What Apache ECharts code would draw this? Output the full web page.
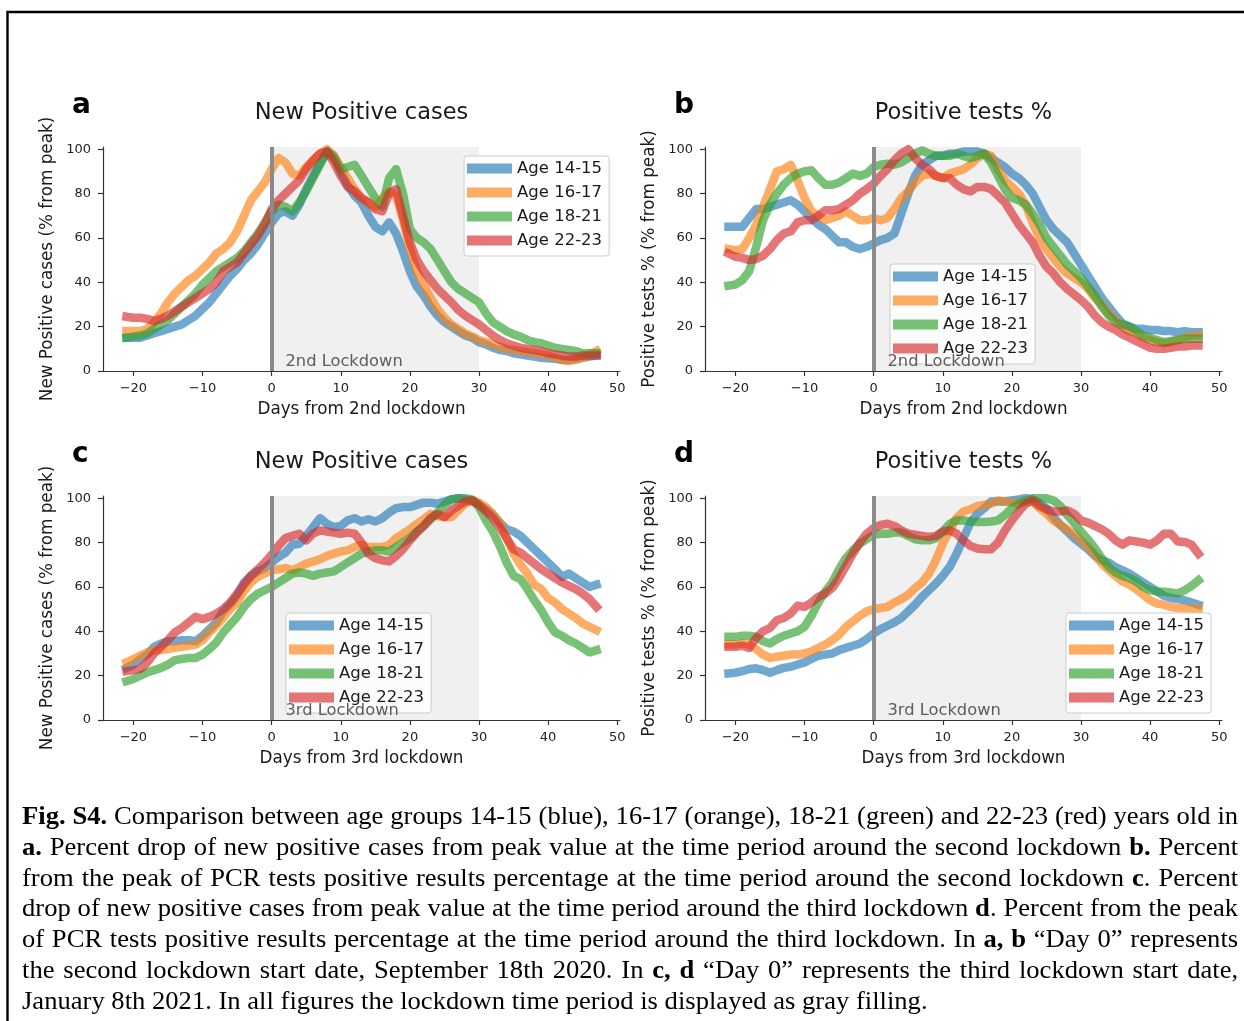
<!DOCTYPE html>
<html>
<head>
<meta charset="utf-8">
<script src="https://cdn.jsdelivr.net/npm/echarts@6/dist/echarts.min.js"></script>
<style>
html,body{margin:0;padding:0;background:#fff;}
#chart{position:absolute;left:0;top:0;width:1244px;height:1021px;}
#cap{position:absolute;left:22px;top:801px;width:1166px;transform-origin:0 0;transform:scaleX(1.043);
 font-family:'Liberation Serif','Times New Roman',serif;font-size:25.5px;color:#000;}
#cap .l{height:30.8px;line-height:30.8px;text-align:justify;text-align-last:justify;white-space:nowrap;}
#cap .last{text-align:left;text-align-last:left;}
</style>
</head>
<body>
<div id="chart"></div>
<div id="cap">
<div class="l"><b>Fig. S4.</b> Comparison between age groups 14-15 (blue), 16-17 (orange), 18-21 (green) and 22-23 (red) years old in</div>
<div class="l"><b>a.</b> Percent drop of new positive cases from peak value at the time period around the second lockdown <b>b.</b> Percent</div>
<div class="l">from the peak of PCR tests positive results percentage at the time period around the second lockdown <b>c</b>. Percent</div>
<div class="l">drop of new positive cases from peak value at the time period around the third lockdown <b>d</b>. Percent from the peak</div>
<div class="l">of PCR tests positive results percentage at the time period around the third lockdown. In <b>a, b</b> “Day 0” represents</div>
<div class="l">the second lockdown start date, September 18th 2020. In <b>c, d</b> “Day 0” represents the third lockdown start date,</div>
<div class="l last">January 8th 2021. In all figures the lockdown time period is displayed as gray filling.</div>
</div>
<script>
// ---- data ----
const days = Array.from({length: 69}, (_, i) => i - 21); // -21 .. 47
const ageGroups = ['Age 14-15', 'Age 16-17', 'Age 18-21', 'Age 22-23'];
const xTicks = [-20, -10, 0, 10, 20, 30, 40, 50];
const yTicks = [0, 20, 40, 60, 80, 100];

// a: new positive cases, 2nd lockdown
const caseLd2_1415 = [15,15,15,16,17,18,19,20,21,23, 25,28,31,35,39,43,46,50,53,57, 62,67,71,72,70,75,82,88,94,99, 97,90,84,79,76,70,65,63,67,62, 54,45,38,34,29,25,22,20,18,16, 15,13,12,10.5,9.5,9,8,7.5,7,6.5, 6,5.7,5.5,5,5,5.5,6,6.5,7];
const caseLd2_1617 = [18,18,18,19,22,26,31,35,38,41, 43,46,49,53,55,58,63,70,77,81, 85,91,96,94,89,88,92,95,98,100, 97,92,87,82,78,76,74,78,81,79, 68,55,45,39,33,28,24,21,19,17, 15.5,14,13,12,11,10,9.5,9,8.5,8, 7.5,7,6,5,4.5,5,6,7.5,9];
const caseLd2_1821 = [15,15.5,16,17,19,21,23,26,29,32, 35,39,42,45,47,49,51,54,58,62, 67,72,75,74,72,76,81,87,93,99, 96,91,92,93,88,83,78,74,87,91, 80,64,60,58,55,50,45,40,37,35, 33,31,26,22,20,18,16.5,15.5,14,13, 12.5,11.5,10.5,10,9.5,9,8,8,8];
const caseLd2_2223 = [24.5,24,24,23.5,22.5,23.5,25,27,29,31, 33,35,37,40,45,47,49,53,57,61, 66,73,77,80,83,86,91,95,98,99, 94,88,83,81,78,76,73,72,80,82, 70,58,50,45,41,37,34,31,27.5,25, 23,21,18.5,16,14,12.5,11.5,10.5,10,9.5, 9,8,7.5,7,6.5,6.5,7,7,7];

// b: positive tests %, 2nd lockdown
const posLd2_1415 = [65,65,65,69,73,73,74,75,76,77, 75,72,69,66,64,61,58,58,56,55, 56,57.5,59,60,62,71,80,88,93,95, 97,97,98,98,99,99,99,98,96,94, 92,89,87,84,80,74,68,64,61,58, 53,48,43,38,33,29,25,21.5,20,19, 19,18.5,18.5,18,18,17.5,18,17.5,17.5];
const posLd2_1617 = [55,54.5,55,60,66,74,82,90,91,93, 86,78,72,70,68,69,70,72,70,68, 68,69,68,69,73,78,81,85,88,89, 88,87,89,90,91,93,96,98,97,91, 86,83,80,75,67,60,55,51,47,44, 42,40,37,33,30,26,23,20,18,17, 15,14,13,12.5,13,14,15,16,16];
const posLd2_1821 = [38.5,39,41,45,56,68,75,80,84,87, 89,90,90.5,87,84,84,85,87,89,88, 89,92,93,93.5,93,94,96,98,99.5,98, 97,97,97,98,97,96,97,98,94,88, 82,78,77,75,71,66,60,56,52,48, 45,42,38,34,29,25,22,21,20,18, 16,15,14,13,13.5,14,14.5,14.5,14.5];
const posLd2_2223 = [53,51.5,51,50,50.5,52,55,59,62,63, 67,68,68,70,72.5,72.5,73,75,77,80, 82,84.5,88,91,95,98,100,96,93,91, 88,87,87,84,82,81,83,83,82,79, 76,71,66,62,58,52,47,44,40,37, 34.5,32,29,25,22,20,18.5,16.5,15,13.5, 12,10.5,10,10,10.5,11,11,11.5,11.5];

// c: new positive cases, 3rd lockdown
const caseLd3_1415 = [23.5,25,27.5,29.5,33,34.5,35.5,35.5,36,36, 35.5,38,41,44,49,52,56,62,65,67, 68.5,71,73.5,75.5,79,79.5,83,87,91,88.5, 87,87.5,90,91,89.5,90.5,89.5,91,93.5,95.5, 96,96,97,98,98,97.5,98.5,99.5,100,99.5, 99,97,95,92.5,89,86,85,83,80,77, 74,71,68,64.5,66,64,62,60,61];
const caseLd3_1617 = [26,27.5,29,30.5,31.5,31.5,32,32.5,33,33.5, 34,36,39.5,42.5,46,50,53,58,62,64.5, 66,67.5,68,68.5,67.5,69,70.5,71.5,72.5,74, 75,76,76.5,78,79,78,78,78,79,82, 84,86,88.5,90.5,93,92,91.5,91.5,94.5,97.5, 99,98,96,93,89,82,75,70,66,61, 59,55,53,50,48,46,43.5,42,40.5];
const caseLd3_1821 = [17.5,18.5,20,21.5,22.5,23.5,25,27,27.5,28, 28,29.5,32,35,39.5,43,46.5,51,54.5,57, 58.5,60,62,64,66,66.5,66,65,66,66.5, 67,69,71,73,75,76,76.5,76.5,76,78, 80,82,85,87.5,90.5,93.5,97,99.5,100,100, 99.5,96,90,85,78.5,71,65,63.5,59,54, 49.5,44,39.5,38,36,34.5,32.5,30.5,31.5];
const caseLd3_2223 = [22,22.5,23,26,30,33,36,39.5,41.5,44, 46.5,45.5,46.5,48,50,53,57,61,65,68, 71,74.5,78.5,82,83,84,81,84,85.5,85, 84.5,84,84.5,84,80,75,73,72,71.5,74, 77,81,84.5,87.5,91,93,91.5,94.5,96.5,98.5, 99,97,94,91,87,82,77,75.5,73,70.5, 68,66,64,62,60.5,59,57,54.5,51];

// d: positive tests %, 3rd lockdown
const posLd3_1415 = [21,21.3,22,23,23.3,22.5,21.3,22.5,23.5,24, 25,26,27.5,29,29.5,30,31.5,32.5,33.5,34.5, 36.5,39,41,42.5,44,46,49,52,55.5,58.5, 61.5,65,69,75,82,89,93,95.5,98.5,98.5, 98.5,99,99.5,100,99.5,98,95.5,91.5,88,85, 82,79.5,77,74,72,71,69,67.5,66,64, 62,60,58,56,55,54.5,54,53,52];
const posLd3_1617 = [34,34,34.5,34,32,29.5,28,28.5,29,29.5, 29.5,30,31,32.5,34,36,38.5,42,44.5,47, 49,50,50.5,51,53,54.5,56.5,59.5,62,66, 72,79.5,85.5,91,94,95,96.5,97,97.5,99, 98.5,98,97.5,98.5,98.5,95.5,93,90,88,86, 84,81,78,74.5,70.5,67.5,65,62.5,61,59, 56.5,54,52.5,52,51,50.5,50.3,50.3,50.3];
const posLd3_1821 = [37.5,37.5,38,38,37.5,35.5,34.5,36.5,38,39, 40,42,47,53,58,62,68,73,76.5,79.5, 81.5,83.5,84,84,84.5,84.5,83,81.5,81,81, 82,85,88.5,90,90,89.5,89.3,89.3,89.5,90, 92.5,95.5,97.5,99,100,100,100,99,96.5,92.5, 89,85,81.5,77.5,73,69,66.5,65,64,62.5, 60,58.5,58,57.8,57.5,57,58.5,60.5,63];
const posLd3_2223 = [33,33,33.5,32.5,37,40,41.5,45,46,48, 51.5,51,53,55.5,57,59.5,64,69.5,75,80, 84,86.5,88,88.5,87.5,85.5,84,83.5,83,82.5, 83,85,85.5,84,81,78.5,77.3,77,77,80, 85.5,90,94,97.5,99,96.5,95,94,94,94.5, 93,90,89,87.5,86,84,81,79,81,80.5, 80,79,81,84,84,80.5,80.3,79,75];

// ---- layout / style ----
const FONT = 'DejaVu Sans';
const colors = ['rgba(31,119,180,0.64)', 'rgba(255,127,14,0.64)', 'rgba(44,160,44,0.64)', 'rgba(214,39,40,0.64)'];
const panels = [
  {grid:{left:103, top:147, width:517, height:224}, series:[caseLd2_1415, caseLd2_1617, caseLd2_1821, caseLd2_2223],
   title:'New Positive cases', letter:'a', ylab:'New Positive cases (% from peak)', xlab:'Days from 2nd lockdown', ld:'2nd Lockdown',
   legend:{left:464, top:156}},
  {grid:{left:705, top:147, width:517, height:224}, series:[posLd2_1415, posLd2_1617, posLd2_1821, posLd2_2223],
   title:'Positive tests %', letter:'b', ylab:'Positive tests % (% from peak)', xlab:'Days from 2nd lockdown', ld:'2nd Lockdown',
   legend:{left:890, top:264}},
  {grid:{left:103, top:496, width:517, height:224}, series:[caseLd3_1415, caseLd3_1617, caseLd3_1821, caseLd3_2223],
   title:'New Positive cases', letter:'c', ylab:'New Positive cases (% from peak)', xlab:'Days from 3rd lockdown', ld:'3rd Lockdown',
   legend:{left:286, top:613}},
  {grid:{left:705, top:496, width:517, height:224}, series:[posLd3_1415, posLd3_1617, posLd3_1821, posLd3_2223],
   title:'Positive tests %', letter:'d', ylab:'Positive tests % (% from peak)', xlab:'Days from 3rd lockdown', ld:'3rd Lockdown',
   legend:{left:1066, top:613}}
];

const axisColor = '#333';
const grids = [], xAxes = [], yAxes = [], series = [], legends = [], graphics = [];
const fmt = v => v < 0 ? '\u2212' + (-v) : String(v);

panels.forEach((p, i) => {
  grids.push(Object.assign({containLabel:false}, p.grid));
  xAxes.push({
    type:'value', gridIndex:i, min:-24.4, max:50.4,
    name:p.xlab, nameLocation:'middle', nameGap:30,
    nameTextStyle:{fontFamily:FONT, fontSize:16.8, color:'#1a1a1a'},
    axisLine:{show:true, onZero:false, lineStyle:{color:axisColor, width:1.2}},
    axisTick:{show:true, customValues:xTicks, length:5, lineStyle:{color:axisColor, width:1.2}},
    axisLabel:{customValues:xTicks, formatter:fmt, fontFamily:FONT, fontSize:13, color:'#222', margin:11},
    splitLine:{show:false}
  });
  yAxes.push({
    type:'value', gridIndex:i, min:0, max:101,
    name:p.ylab, nameLocation:'middle', nameGap:47,
    nameTextStyle:{fontFamily:FONT, fontSize:16.8, color:'#1a1a1a'},
    axisLine:{show:true, onZero:false, lineStyle:{color:axisColor, width:1.2}},
    axisTick:{show:true, customValues:yTicks, length:5, lineStyle:{color:axisColor, width:1.2}},
    axisLabel:{customValues:yTicks, fontFamily:FONT, fontSize:13, color:'#222', margin:12},
    splitLine:{show:false}
  });
  // lockdown shading, day-0 line and label
  series.push({
    type:'line', name:'lockdown-' + p.letter, xAxisIndex:i, yAxisIndex:i, data:[], silent:true, z:1,
    markArea:{silent:true, itemStyle:{color:'#f0f0f0'}, data:[[{xAxis:0}, {xAxis:30}]]},
    markLine:{silent:true, symbol:['none','none'], label:{show:false},
      lineStyle:{color:'#8a8a8a', width:4, type:'solid'}, data:[{xAxis:0}]},
    markPoint:{silent:true, symbol:'rect', symbolSize:0,
      label:{show:true, position:'right', distance:0, formatter:p.ld, fontFamily:FONT, fontSize:16.3, color:'#5c5c5c'},
      data:[{coord:[2, 4.2]}]}
  });
  p.series.forEach((vals, k) => {
    series.push({
      type:'line', name:ageGroups[k], xAxisIndex:i, yAxisIndex:i, z:3,
      data: days.map((d, j) => [d, vals[j]]),
      showSymbol:false, symbol:'none', clip:true,
      lineStyle:{color:colors[k], width:8.5, cap:'square', join:'round'},
      itemStyle:{color:colors[k]},
      emphasis:{disabled:true}
    });
  });
  legends.push({
    data:ageGroups, orient:'vertical', left:p.legend.left, top:p.legend.top,
    icon:'rect', itemWidth:45, itemHeight:10, itemGap:7, selectedMode:false,
    padding:[4,7,7,3], backgroundColor:'rgba(255,255,255,0.8)', borderColor:'#cccccc', borderWidth:1, borderRadius:3,
    itemStyle:{borderWidth:0},
    textStyle:{fontFamily:FONT, fontSize:16.5, color:'#1a1a1a'}
  });
  const cx = p.grid.left + p.grid.width / 2;
  graphics.push({type:'text', x:cx, y:p.grid.top - 34, silent:true,
    style:{text:p.title, font:'22.5px "DejaVu Sans"', fill:'#1a1a1a', textAlign:'center', textVerticalAlign:'middle'}});
  graphics.push({type:'text', x:p.grid.left - 31, y:p.grid.top - 41, silent:true,
    style:{text:p.letter, font:'bold 28px "DejaVu Sans"', fill:'#000', textAlign:'left', textVerticalAlign:'middle'}});
});

graphics.push({type:'rect', silent:true, shape:{x:7.5, y:12, width:1400, height:1200},
  style:{fill:'none', stroke:'#000', lineWidth:2.4}});

const chart = echarts.init(document.getElementById('chart'), null, {renderer:'canvas'});
chart.setOption({
  animation:false,
  backgroundColor:'#fff',
  grid:grids, xAxis:xAxes, yAxis:yAxes, series:series, legend:legends, graphic:graphics
});
</script>
</body>
</html>
